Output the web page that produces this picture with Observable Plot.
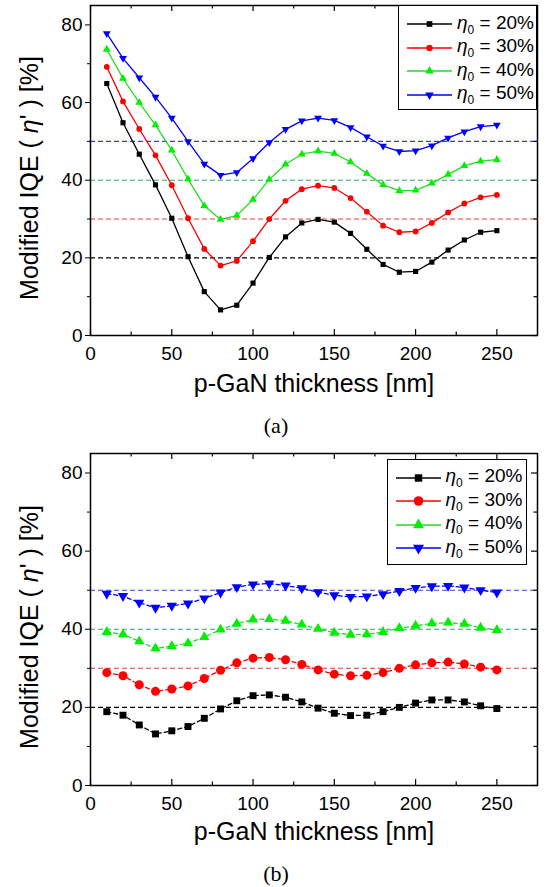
<!DOCTYPE html>
<html><head><meta charset="utf-8">
<script src="https://cdn.jsdelivr.net/npm/d3@7"></script>
<script src="https://cdn.jsdelivr.net/npm/@observablehq/plot@0.6"></script>
<style>
body{margin:0;background:#fff;}
#wrap{position:relative;width:548px;height:887px;font-family:Arial,"Liberation Sans",sans-serif;color:#000;overflow:hidden;}
.panel{position:absolute;left:0;}
.ytitle{position:absolute;font-size:25px;white-space:nowrap;transform:translate(-50%,-50%) rotate(-90deg);}
.xtitle{position:absolute;font-size:25px;white-space:nowrap;transform:translate(-50%,-50%);}
.tag{position:absolute;font-family:"Liberation Serif","Times New Roman",serif;font-size:22px;transform:translate(-50%,-50%);}
.legend{position:absolute;border:1.5px solid #000;background:#fff;box-sizing:border-box;}
.row{display:flex;align-items:center;height:23.5px;font-size:19px;white-space:nowrap;}
.row svg{flex:none;}
.row span{margin-left:5px;}
.row i sub{font-style:normal;font-size:12px;}
</style></head>
<body>
<div id="wrap"></div>
<script>
// ---- data ----
const thickness = [10,20,30,40,50,60,70,80,90,100,110,120,130,140,150,160,170,180,190,200,210,220,230,240,250];
const etaLabels = ["20%","30%","40%","50%"];
const refLevels = [20,30,40,50];
const xTicks = [0,50,100,150,200,250];
const xMinor = [25,75,125,175,225];
const yTicks = [0,20,40,60,80];
const yMinor = [10,30,50,70];

// (a)
const a20 = [64.9,54.8,46.7,38.8,30.2,20.3,11.3,6.6,7.8,13.5,20.1,25.4,29.0,29.9,29.2,26.3,22.2,18.3,16.3,16.5,18.9,22.0,24.6,26.6,27.0];
const a30 = [69.2,60.3,53.2,46.4,38.7,30.2,22.3,18.0,19.2,24.3,30.0,34.7,37.7,38.6,38.0,35.4,31.9,28.3,26.6,26.8,29.0,31.7,34.0,35.6,36.2];
const a40 = [73.7,66.2,60.0,54.2,47.7,40.3,33.4,29.9,30.9,35.0,40.2,44.1,46.7,47.5,46.9,44.7,41.7,38.8,37.3,37.4,39.2,41.5,43.7,44.9,45.3];
const a50 = [77.8,71.4,66.4,61.4,56.0,50.0,44.2,41.3,42.0,45.6,49.7,53.1,55.3,56.0,55.4,53.6,51.2,48.8,47.4,47.6,48.9,50.9,52.5,53.8,54.2];
// (b)
const b20 = [18.9,18.0,15.5,13.2,14.0,15.1,17.2,19.6,21.7,23.0,23.2,22.6,21.4,19.8,18.5,17.9,18.0,18.9,20.0,21.1,21.9,21.9,21.4,20.4,19.7];
const b30 = [28.9,28.1,25.8,24.1,24.7,25.5,27.4,29.5,31.4,32.6,32.8,32.2,31.0,29.6,28.5,28.1,28.2,28.9,30.0,30.9,31.4,31.6,31.1,30.3,29.6];
const b40 = [39.3,38.7,36.9,35.1,35.7,36.4,38.0,39.9,41.4,42.5,42.6,42.2,41.2,40.1,39.1,38.6,38.7,39.3,40.3,40.9,41.5,41.7,41.4,40.4,39.8];
const b50 = [49.1,48.5,46.8,45.5,46.0,46.6,47.9,49.4,50.8,51.5,51.7,51.2,50.5,49.5,48.7,48.3,48.4,49.0,49.8,50.6,51.0,51.1,50.7,50.0,49.4];

// ---- styles ----
const seriesColors = ["#000000","#ff0000","#00ee00","#0000ff"];
const lineColors = ["#000000","#ff0000","#22dd22","#0000ff"];
const refColors = ["#000000","#e03c3c","#2ea86a","#3b3bdd"];
const triDown = {draw(ctx, size){
  const y = -Math.sqrt(size / (Math.sqrt(3) * 3));
  ctx.moveTo(0, -2 * y);
  ctx.lineTo(-Math.sqrt(3) * y, y);
  ctx.lineTo(Math.sqrt(3) * y, y);
  ctx.closePath();
}};
const symbols = ["square","circle","triangle",triDown];

const W = 548, mL = 90, mR = 11, mT = 5, mB = 35;

function panel(series, height, dashed, rs) {
  const innerH = height - mT - mB, innerW = W - mL - mR;
  const marks = [];
  refLevels.forEach((lv, i) => {
    marks.push(Plot.ruleY([lv], {y: d => d, stroke: refColors[i], strokeWidth: 1.1, strokeDasharray: "5,3"}));
  });
  series.forEach((vals, i) => {
    const data = thickness.map((x, j) => ({x, y: vals[j]}));
    marks.push(Plot.line(data, {x: "x", y: "y", stroke: lineColors[i], strokeWidth: 1.3, strokeDasharray: dashed ? "4,3" : null}));
    marks.push(Plot.dot(data, {x: "x", y: "y", symbol: symbols[i], r: rs[i], fill: seriesColors[i], stroke: "none"}));
  });
  // ticks inward on bottom/top/right
  marks.push(Plot.tickX(xTicks, {x: d => d, insetTop: innerH - 6, stroke: "#000", strokeWidth: 1.2}));
  marks.push(Plot.tickX(xMinor, {x: d => d, insetTop: innerH - 3.5, stroke: "#000", strokeWidth: 1.2}));
  marks.push(Plot.tickX(xTicks, {x: d => d, insetBottom: innerH - 6, stroke: "#000", strokeWidth: 1.2}));
  marks.push(Plot.tickX(xMinor, {x: d => d, insetBottom: innerH - 3.5, stroke: "#000", strokeWidth: 1.2}));
  marks.push(Plot.tickY(yTicks, {y: d => d, insetLeft: innerW - 6, stroke: "#000", strokeWidth: 1.2}));
  marks.push(Plot.tickY(yMinor, {y: d => d, insetLeft: innerW - 3.5, stroke: "#000", strokeWidth: 1.2}));
  marks.push(Plot.axisX({ticks: xTicks, tickSize: 0, tickPadding: 11, fontSize: 19, label: null}));
  marks.push(Plot.axisY({ticks: yTicks, tickSize: 5, tickPadding: 3, fontSize: 19, label: null}));
  marks.push(Plot.axisY({ticks: yMinor, tickSize: 3, tickFormat: () => "", label: null}));
  marks.push(Plot.frame({stroke: "#000", strokeWidth: 1.5}));
  return Plot.plot({
    width: W, height, marginLeft: mL, marginRight: mR, marginTop: mT, marginBottom: mB,
    style: {fontFamily: 'Arial, "Liberation Sans", sans-serif', fontSize: "19px", color: "#000", background: "#fff", overflow: "visible"},
    x: {domain: [0, 275], label: null},
    y: {domain: [0, 85], label: null},
    marks
  });
}

function symbolSvg(i, r) {
  const size = r * r * Math.PI;
  let path;
  if (i === 1) path = `<circle cx="22.5" cy="8" r="${r}" fill="${seriesColors[i]}"/>`;
  else {
    const t = [d3.symbolSquare, null, d3.symbolTriangle, triDown][i];
    path = `<path transform="translate(22.5,8)" d="${d3.symbol(t, size)()}" fill="${seriesColors[i]}"/>`;
  }
  return `<svg width="45" height="16"><line x1="0" x2="45" y1="8" y2="8" stroke="${lineColors[i]}" stroke-width="1.5"/>${path}</svg>`;
}

function legend(left, top, w, h, padT, padL, rs) {
  const div = document.createElement("div");
  div.className = "legend";
  Object.assign(div.style, {left: left + "px", top: top + "px", width: w + "px", height: h + "px", paddingTop: padT + "px", paddingLeft: padL + "px"});
  div.innerHTML = etaLabels.map((lab, i) =>
    `<div class="row">${symbolSvg(i, rs[i] + 0.3)}<span><i>η<sub>0</sub></i> = ${lab}</span></div>`).join("");
  return div;
}

function addText(cls, html, x, y) {
  const d = document.createElement("div");
  d.className = cls; d.innerHTML = html;
  d.style.left = x + "px"; d.style.top = y + "px";
  wrap.appendChild(d);
}

const wrap = document.getElementById("wrap");
const rA = [2.9, 2.9, 2.9, 2.9];
const rB = [3.9, 4.5, 3.8, 3.8];

const pA = panel([a20, a30, a40, a50], 370, false, rA);
pA.classList.add("panel"); pA.style.top = "0px";
wrap.appendChild(pA);
const pB = panel([b20, b30, b40, b50], 372, true, rB);
pB.classList.add("panel"); pB.style.top = "448px";
wrap.appendChild(pB);

wrap.appendChild(legend(398, 5, 139, 105, 6.5, 8, rA));
wrap.appendChild(legend(387, 459, 140, 106, 6, 7.5, rB));

const yLab = "Modified IQE ( <i>η</i>' ) [%]";
addText("ytitle", yLab, 29, 178);
addText("ytitle", yLab, 29, 627);
addText("xtitle", "p-GaN thickness [nm]", 314, 383);
addText("xtitle", "p-GaN thickness [nm]", 314, 831);
addText("tag", "(a)", 276, 426);
addText("tag", "(b)", 276, 874);
</script>
</body></html>
